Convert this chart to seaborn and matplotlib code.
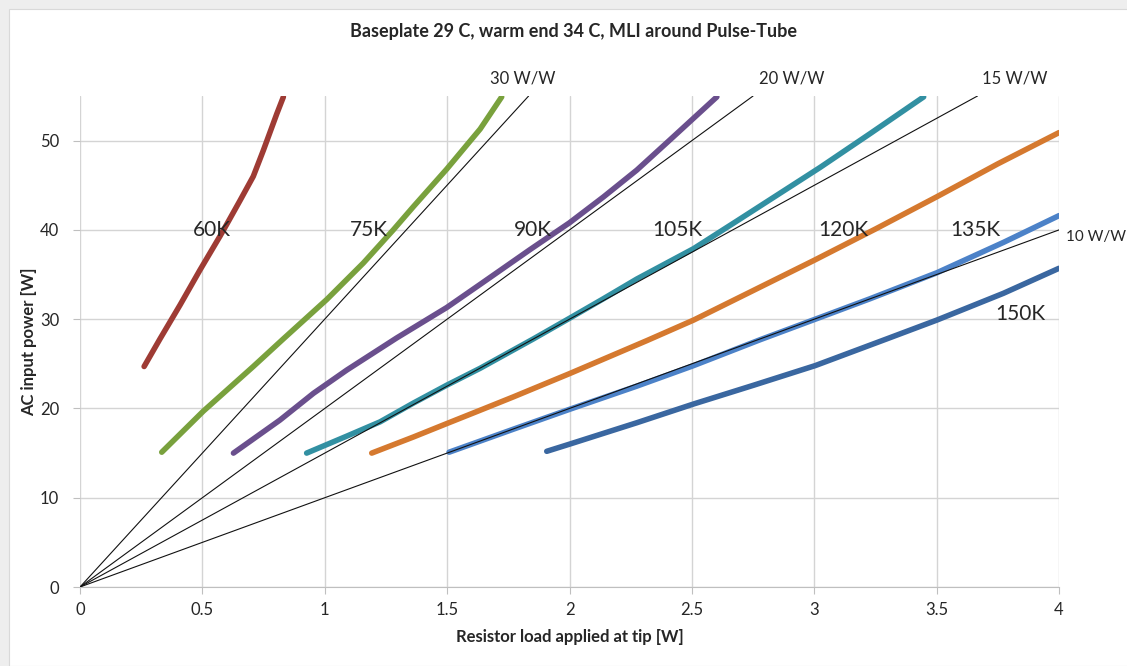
import pandas as pd
import matplotlib.pyplot as plt
import seaborn as sns
from matplotlib.patches import Rectangle

# Measured curves, x = resistor load [W], y = AC input power [W]
k60_x = [0.262, 0.327, 0.409, 0.490, 0.572, 0.599, 0.654, 0.708, 0.749, 0.804, 0.831]
k60_y = [24.7, 27.8, 31.6, 35.5, 39.3, 40.6, 43.3, 46.0, 48.9, 53.0, 54.9]
k75_x = [0.334, 0.504, 0.708, 0.831, 1.008, 1.158, 1.280, 1.362, 1.498, 1.635, 1.723]
k75_y = [15.1, 19.7, 24.7, 27.8, 32.2, 36.3, 40.0, 42.6, 46.8, 51.3, 54.9]
k90_x = [0.627, 0.817, 0.954, 1.090, 1.294, 1.498, 1.635, 1.839, 2.000, 2.139, 2.275, 2.411, 2.602]
k90_y = [15.0, 18.7, 21.7, 24.3, 27.9, 31.3, 33.9, 37.8, 40.8, 43.7, 46.7, 50.1, 54.9]
k105_x = [0.926, 1.090, 1.226, 1.362, 1.498, 1.635, 1.853, 2.000, 2.139, 2.275, 2.507,
          2.684, 2.820, 3.024, 3.229, 3.447]
k105_y = [15.0, 16.9, 18.5, 20.6, 22.6, 24.5, 27.8, 30.1, 32.3, 34.5, 37.9,
          41.0, 43.4, 47.0, 50.8, 54.9]
k120_x = [1.192, 1.362, 1.498, 1.635, 1.771, 2.000, 2.316, 2.507, 2.750, 3.000, 3.250,
          3.500, 3.750, 4.000]
k120_y = [15.0, 16.8, 18.3, 19.8, 21.3, 23.9, 27.6, 29.9, 33.2, 36.6, 40.1,
          43.7, 47.4, 50.9]
k135_x = [1.508, 1.773, 2.000, 2.275, 2.507, 2.779, 3.024, 3.229, 3.501, 3.773, 4.000]
k135_y = [15.1, 17.7, 19.9, 22.5, 24.8, 27.7, 30.2, 32.3, 35.2, 38.6, 41.6]
k150_x = [1.907, 2.000, 2.275, 2.507, 2.752, 3.004, 3.297, 3.501, 3.773, 4.000]
k150_y = [15.2, 16.0, 18.4, 20.5, 22.6, 24.8, 27.8, 29.9, 32.9, 35.7]

# constant COP reference lines
ww_names = ['30 W/W', '20 W/W', '15 W/W', '10 W/W']
ww_x = [[0, 1.833], [0, 2.75], [0, 3.667], [0, 4.0]]
ww_y = [[0, 55], [0, 55], [0, 55], [0, 40]]

temps = ['60K', '75K', '90K', '105K', '120K', '135K', '150K']
xs = [k60_x, k75_x, k90_x, k105_x, k120_x, k135_x, k150_x]
ys = [k60_y, k75_y, k90_y, k105_y, k120_y, k135_y, k150_y]
colors = ['#9e3b34', '#79a13d', '#6a4f8d', '#3290a2', '#d5792f', '#4c82c8', '#3a67a0']

# label positions
temp_lbl_x = [0.54, 1.18, 1.85, 2.44, 3.12, 3.66, 3.84]
temp_lbl_y = [40, 40, 40, 40, 40, 40, 30.6]
ww_lbl_x = [1.81, 2.91, 3.82, 4.03]
ww_lbl_y = [57.0, 57.0, 57.0, 39.2]
ww_lbl_ha = ['center', 'center', 'center', 'left']

rows = []
for t, xv, yv in zip(temps, xs, ys):
    for a, b in zip(xv, yv):
        rows.append({'temp': t, 'load': a, 'power': b})
df = pd.DataFrame(rows)

rows = []
for n, xv, yv in zip(ww_names, ww_x, ww_y):
    for a, b in zip(xv, yv):
        rows.append({'cop': n, 'load': a, 'power': b})
ww_df = pd.DataFrame(rows)

sns.set_style('white')
plt.rcParams['font.family'] = ['Lato', 'DejaVu Sans']

fig = plt.figure(figsize=(11.27, 6.66), dpi=100, facecolor='#eeeeee')
fig.patches.append(Rectangle((9 / 1127, 0), 1, 1 - 9 / 666, transform=fig.transFigure,
                             facecolor='white', edgecolor='#d9d9d9', lw=0.8, zorder=-1))
ax = fig.add_axes([80 / 1127, 1 - 587 / 666, 979 / 1127, 491 / 666])
ax.set_facecolor('none')

sns.lineplot(data=ww_df, x='load', y='power', units='cop', estimator=None, sort=False,
             color='#111111', linewidth=0.8, ax=ax, legend=False, zorder=3)
sns.lineplot(data=df, x='load', y='power', hue='temp', palette=colors, hue_order=temps,
             sort=False, estimator=None, linewidth=4, ax=ax, legend=False, zorder=2,
             solid_capstyle='round', solid_joinstyle='round')

for t, a, b in zip(temps, temp_lbl_x, temp_lbl_y):
    ax.text(a, b, t, fontsize=15, ha='center', va='center', zorder=4)
for n, a, b, h in zip(ww_names, ww_lbl_x, ww_lbl_y, ww_lbl_ha):
    ax.text(a, b, n, fontsize=12 if h == 'center' else 11, ha=h, va='center', clip_on=False)

ax.set_xlim(0, 4)
ax.set_ylim(0, 55)
ax.set_xticks([0, 0.5, 1, 1.5, 2, 2.5, 3, 3.5, 4])
ax.set_xticklabels(['0', '0.5', '1', '1.5', '2', '2.5', '3', '3.5', '4'])
ax.set_yticks([0, 10, 20, 30, 40, 50])
ax.grid(True, color='#d4d4d4', linewidth=1)
for s in ['top', 'right', 'left']:
    ax.spines[s].set_visible(False)
ax.spines['bottom'].set_color('#bfbfbf')
ax.tick_params(axis='both', length=5, color='#bfbfbf', labelsize=12, pad=6)
ax.tick_params(axis='x', direction='out', bottom=True)
ax.tick_params(axis='y', direction='out', left=True, pad=10)

ax.set_xlabel('Resistor load applied at tip [W]', fontsize=12, fontweight='bold', labelpad=8)
ax.set_ylabel('AC input power [W]', fontsize=12, fontweight='bold', labelpad=2)
fig.text(574 / 1127, 1 - 32 / 666, 'Baseplate 29 C, warm end 34 C, MLI around Pulse-Tube',
         fontsize=13, fontweight='bold', ha='center', va='center')

fig.savefig('out.png', dpi=100, facecolor=fig.get_facecolor())
